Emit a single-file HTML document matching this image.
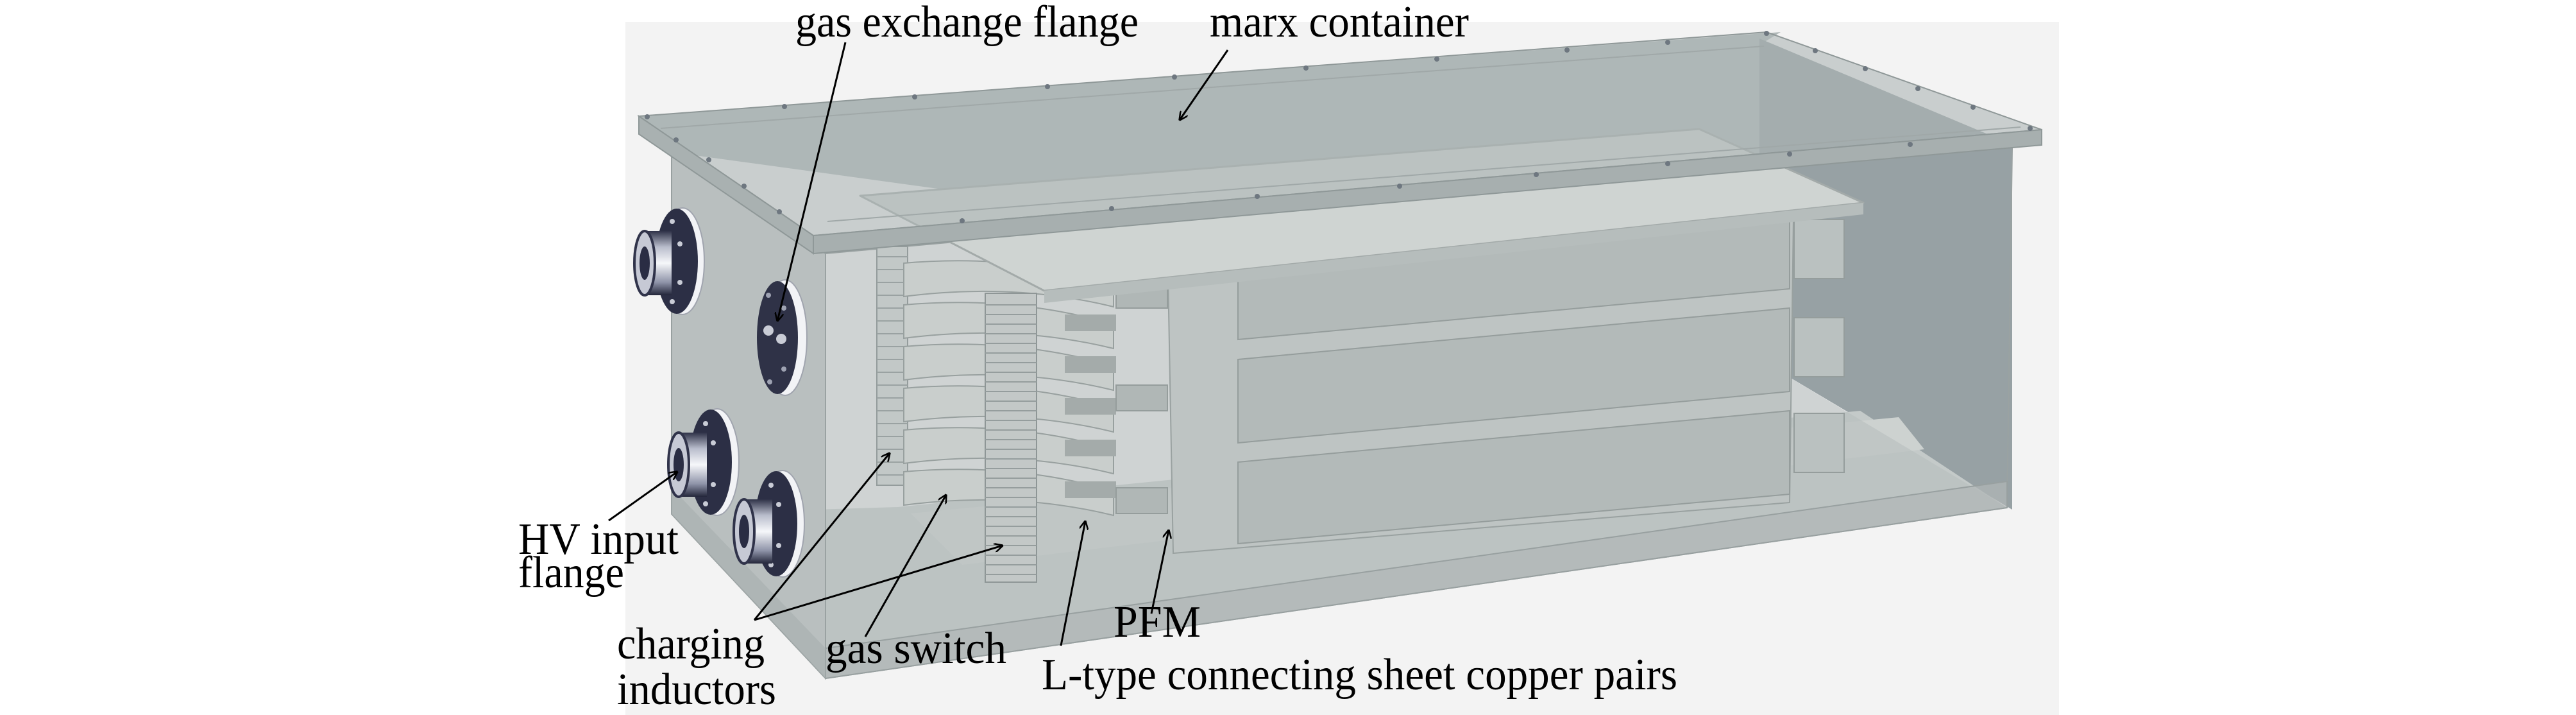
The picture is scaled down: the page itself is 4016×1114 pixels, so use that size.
<!DOCTYPE html>
<html><head><meta charset="utf-8">
<style>
html,body{margin:0;padding:0;background:#fff;}
svg{display:block;}
text{font-family:"Liberation Serif",serif;fill:#000;}
</style></head>
<body>
<svg width="4016" height="1114" viewBox="0 0 4016 1114" xmlns="http://www.w3.org/2000/svg">
<defs>
<marker id="ah" markerWidth="14" markerHeight="14" refX="13" refY="7" orient="auto" markerUnits="userSpaceOnUse">
<path d="M0,0 L14,7 L0,14" fill="none" stroke="#000" stroke-width="2.5"/>
</marker>
<linearGradient id="boss" x1="0" y1="0" x2="0" y2="1">
<stop offset="0" stop-color="#2f3248"/><stop offset="0.25" stop-color="#b9bdcc"/><stop offset="0.5" stop-color="#f6f7fa"/><stop offset="0.8" stop-color="#8e93a8"/><stop offset="1" stop-color="#23263a"/>
</linearGradient>
</defs>

<!-- background render panel -->
<rect x="975" y="34" width="2235" height="1080" fill="#f3f3f3"/>

<!-- back wall -->
<polygon points="996,181 2776,50 2743,70 2743,470 1047,237" fill="#b0b8b8"/>
<!-- right inner wall darker -->
<polygon points="2743,60 3137,225 3137,794 2743,560" fill="#97a1a4"/>

<!-- floor inside -->
<polygon points="1047,801 1287,1057 3129,791 2900,640 1400,790" fill="#c4cac9"/>
<polygon points="1420,800 2960,650 3000,700 1500,880" fill="#cdd2d0"/>

<!-- left face -->
<polygon points="1047,237 1287,395 1287,1057 1047,801" fill="#b9bfbf" stroke="#98a0a0" stroke-width="2"/>
<!-- front face -->
<polygon points="1287,395 2743,265 2743,560 3129,791 1287,1057" fill="#b7bebe" fill-opacity="0.6"/>
<polygon points="1287,395 3137,230 3129,791 1287,1057" fill="none" stroke="#9aa2a2" stroke-width="2"/>

<!-- columns (charging inductors) -->
<rect x="1367" y="384" width="48" height="372" fill="#c2c8c7" stroke="#949c9c" stroke-width="2"/>
<g stroke="#9aa2a2" stroke-width="2">
<line x1="1367" y1="400" x2="1415" y2="400"/><line x1="1367" y1="420" x2="1415" y2="420"/><line x1="1367" y1="440" x2="1415" y2="440"/><line x1="1367" y1="460" x2="1415" y2="460"/><line x1="1367" y1="480" x2="1415" y2="480"/><line x1="1367" y1="500" x2="1415" y2="500"/><line x1="1367" y1="520" x2="1415" y2="520"/><line x1="1367" y1="540" x2="1415" y2="540"/><line x1="1367" y1="560" x2="1415" y2="560"/><line x1="1367" y1="580" x2="1415" y2="580"/><line x1="1367" y1="600" x2="1415" y2="600"/><line x1="1367" y1="620" x2="1415" y2="620"/><line x1="1367" y1="640" x2="1415" y2="640"/><line x1="1367" y1="660" x2="1415" y2="660"/><line x1="1367" y1="680" x2="1415" y2="680"/><line x1="1367" y1="700" x2="1415" y2="700"/><line x1="1367" y1="720" x2="1415" y2="720"/><line x1="1367" y1="740" x2="1415" y2="740"/>
</g>

<!-- switch disks -->
<g fill="#c9cecc" stroke="#98a09f" stroke-width="2">
<path d="M1409,410 Q1580,395 1736,440 L1736,478 Q1580,440 1409,462 Z"/>
<path d="M1409,475 Q1580,460 1736,505 L1736,543 Q1580,505 1409,527 Z"/>
<path d="M1409,540 Q1580,525 1736,570 L1736,608 Q1580,570 1409,592 Z"/>
<path d="M1409,605 Q1580,590 1736,635 L1736,673 Q1580,635 1409,657 Z"/>
<path d="M1409,670 Q1580,655 1736,700 L1736,738 Q1580,700 1409,722 Z"/>
<path d="M1409,735 Q1580,720 1736,765 L1736,803 Q1580,765 1409,787 Z"/>
</g>
<g fill="#a4abaa">
<rect x="1660" y="425" width="80" height="26"/><rect x="1660" y="490" width="80" height="26"/><rect x="1660" y="555" width="80" height="26"/><rect x="1660" y="620" width="80" height="26"/><rect x="1660" y="685" width="80" height="26"/><rect x="1660" y="750" width="80" height="26"/>
</g>

<!-- PFM panel and blocks -->
<polygon points="1821,430 2796,338 2790,783 1829,862" fill="#bec4c3" stroke="#99a1a0" stroke-width="2"/>
<g fill="#b3bab9" stroke="#959d9c" stroke-width="2">
<polygon points="1930,426 2790,345 2790,450 1930,529"/>
<polygon points="1930,560 2790,480 2790,610 1930,690"/>
<polygon points="1930,720 2790,640 2790,770 1930,847"/>
</g>
<g fill="#bac1c0" stroke="#959d9c" stroke-width="2">
<rect x="2797" y="342" width="78" height="92"/>
<rect x="2797" y="495" width="78" height="92"/>
<rect x="2797" y="644" width="78" height="92"/>
</g>
<g fill="#b0b7b6" stroke="#959d9c" stroke-width="2">
<rect x="1740" y="440" width="80" height="40"/><rect x="1740" y="600" width="80" height="40"/><rect x="1740" y="760" width="80" height="40"/>
</g>

<!-- right column -->
<rect x="1536" y="457" width="80" height="450" fill="#c3c8c7" stroke="#8e9696" stroke-width="2"/>
<g stroke="#959d9d" stroke-width="2">
<line x1="1536" y1="475" x2="1616" y2="475"/><line x1="1536" y1="490" x2="1616" y2="490"/><line x1="1536" y1="505" x2="1616" y2="505"/><line x1="1536" y1="520" x2="1616" y2="520"/><line x1="1536" y1="535" x2="1616" y2="535"/><line x1="1536" y1="550" x2="1616" y2="550"/><line x1="1536" y1="565" x2="1616" y2="565"/><line x1="1536" y1="580" x2="1616" y2="580"/><line x1="1536" y1="595" x2="1616" y2="595"/><line x1="1536" y1="610" x2="1616" y2="610"/><line x1="1536" y1="625" x2="1616" y2="625"/><line x1="1536" y1="640" x2="1616" y2="640"/><line x1="1536" y1="655" x2="1616" y2="655"/><line x1="1536" y1="670" x2="1616" y2="670"/><line x1="1536" y1="685" x2="1616" y2="685"/><line x1="1536" y1="700" x2="1616" y2="700"/><line x1="1536" y1="715" x2="1616" y2="715"/><line x1="1536" y1="730" x2="1616" y2="730"/><line x1="1536" y1="745" x2="1616" y2="745"/><line x1="1536" y1="760" x2="1616" y2="760"/><line x1="1536" y1="775" x2="1616" y2="775"/><line x1="1536" y1="790" x2="1616" y2="790"/><line x1="1536" y1="805" x2="1616" y2="805"/><line x1="1536" y1="820" x2="1616" y2="820"/><line x1="1536" y1="835" x2="1616" y2="835"/><line x1="1536" y1="850" x2="1616" y2="850"/><line x1="1536" y1="865" x2="1616" y2="865"/><line x1="1536" y1="880" x2="1616" y2="880"/><line x1="1536" y1="895" x2="1616" y2="895"/>
</g>

<!-- top plate -->
<polygon points="1341,305 2649,201 2905,316 1628,453" fill="#cfd4d2" stroke="#a3aaa9" stroke-width="3" stroke-linejoin="round"/>
<polygon points="1628,453 2905,316 2905,334 1628,472" fill="#b6bdbc"/>

<!-- base slab -->
<polygon points="1287,1010 3129,750 3129,791 1287,1057" fill="#b0b7b6" fill-opacity="0.7" stroke="#98a0a0" stroke-width="2"/>
<polygon points="1047,760 1287,1010 1287,1057 1047,801" fill="#a9b0b0" fill-opacity="0.7"/>

<!-- lid -->
<polygon points="996,181 2754,50 3183,202 1268,367" fill="#adb5b6" fill-opacity="0.6" stroke="#8f9898" stroke-width="2"/>
<polygon points="996,181 1268,367 1268,395 996,209" fill="#a9b1b1" stroke="#8f9898" stroke-width="2"/>
<polygon points="1268,367 3183,202 3183,226 1268,395" fill="#a7afaf" stroke="#8f9898" stroke-width="2"/>
<line x1="1030" y1="200" x2="2750" y2="72" stroke="#a0a8a8" stroke-width="2"/>
<line x1="1290" y1="345" x2="3150" y2="198" stroke="#a0a8a8" stroke-width="2"/>
<g fill="#6e7780">
<circle cx="1009" cy="182" r="4"/><circle cx="1223" cy="166" r="4"/><circle cx="1426" cy="151" r="4"/><circle cx="1633" cy="135" r="4"/><circle cx="1831" cy="120" r="4"/><circle cx="2036" cy="106" r="4"/><circle cx="2240" cy="92" r="4"/><circle cx="2443" cy="78" r="4"/><circle cx="2600" cy="66" r="4"/><circle cx="2754" cy="52" r="4"/>
<circle cx="2830" cy="79" r="4"/><circle cx="2908" cy="107" r="4"/><circle cx="2990" cy="138" r="4"/><circle cx="3076" cy="167" r="4"/><circle cx="3165" cy="200" r="4"/>
<circle cx="1500" cy="344" r="4"/><circle cx="1733" cy="325" r="4"/><circle cx="1960" cy="306" r="4"/><circle cx="2182" cy="290" r="4"/><circle cx="2395" cy="272" r="4"/><circle cx="2600" cy="255" r="4"/><circle cx="2790" cy="240" r="4"/><circle cx="2978" cy="225" r="4"/>
<circle cx="1054" cy="218" r="4"/><circle cx="1105" cy="249" r="4"/><circle cx="1160" cy="290" r="4"/><circle cx="1215" cy="330" r="4"/>
</g>

<!-- flanges on left face -->
<g>
<ellipse cx="1064" cy="407" rx="34" ry="83" fill="#f2f3f6" stroke="#a0a4ae" stroke-width="2"/>
<ellipse cx="1055" cy="407" rx="33" ry="82" fill="#2c2f45"/>
<g fill="#c9ccd6"><circle cx="1048" cy="345" r="4"/><circle cx="1060" cy="380" r="4"/><circle cx="1060" cy="440" r="4"/><circle cx="1048" cy="470" r="4"/></g>
<rect x="1005" y="360" width="42" height="100" fill="url(#boss)"/>
<ellipse cx="1005" cy="410" rx="16" ry="50" fill="#c6c9d5" stroke="#30334a" stroke-width="4"/>
<ellipse cx="1005" cy="410" rx="8" ry="26" fill="#2a2d44"/>
</g>
<g>
<ellipse cx="1224" cy="526" rx="34" ry="90" fill="#f2f3f6" stroke="#a0a4ae" stroke-width="2"/>
<ellipse cx="1212" cy="526" rx="32" ry="88" fill="#2f3247"/>
<g fill="#9ea2b2"><circle cx="1198" cy="460" r="4"/><circle cx="1222" cy="480" r="4"/><circle cx="1222" cy="575" r="4"/><circle cx="1200" cy="595" r="4"/></g>
<circle cx="1198" cy="515" r="8" fill="#c9ccd6"/><circle cx="1218" cy="528" r="8" fill="#c9ccd6"/>
</g>
<g>
<ellipse cx="1118" cy="720" rx="34" ry="83" fill="#f2f3f6" stroke="#a0a4ae" stroke-width="2"/>
<ellipse cx="1108" cy="720" rx="33" ry="82" fill="#2c2f45"/>
<g fill="#c9ccd6"><circle cx="1100" cy="660" r="4"/><circle cx="1112" cy="690" r="4"/><circle cx="1112" cy="755" r="4"/><circle cx="1100" cy="785" r="4"/></g>
<rect x="1058" y="674" width="44" height="100" fill="url(#boss)"/>
<ellipse cx="1058" cy="724" rx="16" ry="50" fill="#c6c9d5" stroke="#30334a" stroke-width="4"/>
<ellipse cx="1058" cy="724" rx="8" ry="26" fill="#2a2d44"/>
</g>
<g>
<ellipse cx="1220" cy="816" rx="34" ry="83" fill="#f2f3f6" stroke="#a0a4ae" stroke-width="2"/>
<ellipse cx="1210" cy="816" rx="33" ry="82" fill="#2c2f45"/>
<g fill="#c9ccd6"><circle cx="1202" cy="756" r="4"/><circle cx="1214" cy="786" r="4"/><circle cx="1214" cy="850" r="4"/><circle cx="1202" cy="880" r="4"/></g>
<rect x="1160" y="778" width="44" height="100" fill="url(#boss)"/>
<ellipse cx="1160" cy="828" rx="16" ry="50" fill="#c6c9d5" stroke="#30334a" stroke-width="4"/>
<ellipse cx="1160" cy="828" rx="8" ry="26" fill="#2a2d44"/>
</g>

<!-- arrows -->
<g stroke="#000" stroke-width="3" fill="none" marker-end="url(#ah)">
<line x1="1318" y1="66" x2="1212" y2="500"/>
<line x1="1914" y1="78" x2="1839" y2="187"/>
<line x1="949" y1="811" x2="1056" y2="735"/>
<line x1="1176" y1="966" x2="1387" y2="706"/>
<line x1="1176" y1="966" x2="1563" y2="850"/>
<line x1="1349" y1="992" x2="1475" y2="771"/>
<line x1="1654" y1="1006" x2="1692" y2="812"/>
<line x1="1795" y1="956" x2="1822" y2="826"/>
</g>

<!-- labels -->
<g font-size="70">
<text x="1240" y="57" textLength="535" lengthAdjust="spacingAndGlyphs">gas exchange flange</text>
<text x="1886" y="57" textLength="404" lengthAdjust="spacingAndGlyphs">marx container</text>
<text x="808" y="863" textLength="250" lengthAdjust="spacingAndGlyphs">HV input</text>
<text x="808" y="915" textLength="165" lengthAdjust="spacingAndGlyphs">flange</text>
<text x="962" y="1026" textLength="230" lengthAdjust="spacingAndGlyphs">charging</text>
<text x="962" y="1097" textLength="248" lengthAdjust="spacingAndGlyphs">inductors</text>
<text x="1287" y="1033" textLength="282" lengthAdjust="spacingAndGlyphs">gas switch</text>
<text x="1736" y="992" textLength="136" lengthAdjust="spacingAndGlyphs">PFM</text>
<text x="1624" y="1074" textLength="991" lengthAdjust="spacingAndGlyphs">L-type connecting sheet copper pairs</text>
</g>
</svg>
</body></html>
